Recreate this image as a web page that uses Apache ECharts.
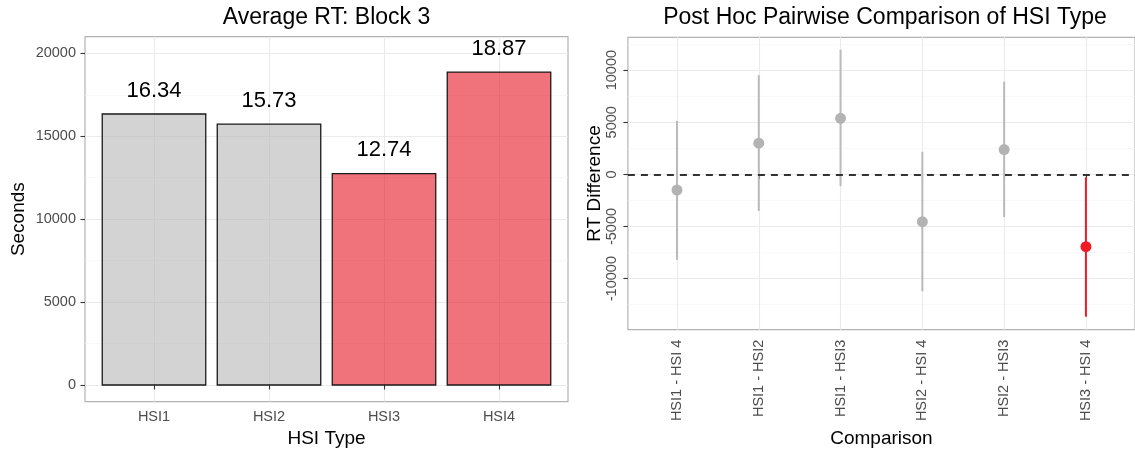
<!DOCTYPE html>
<html>
<head>
<meta charset="utf-8">
<script src="https://cdn.jsdelivr.net/npm/echarts@6/dist/echarts.min.js"></script>
<style>
  html, body { margin: 0; padding: 0; background: #fff; }
  #chart { width: 1135px; height: 453px; }
</style>
</head>
<body>
<div id="chart"></div>
<script>
// Left panel: mean response time per HSI type in block 3
const hsiTypes = ['HSI1', 'HSI2', 'HSI3', 'HSI4'];
const meanRT = [16340, 15730, 12740, 18870];
const highlightedTypes = ['HSI3', 'HSI4'];
const leftYTicks = [0, 5000, 10000, 15000, 20000];

// Right panel: pairwise differences with their confidence intervals
const comparisons = ['HSI1 - HSI 4', 'HSI1 - HSI2', 'HSI1 - HSI3', 'HSI2 - HSI 4', 'HSI2 - HSI3', 'HSI3 - HSI 4'];
const diffEstimate = [-1500, 2990, 5380, -4540, 2380, -6930];
const diffLower = [-8200, -3500, -1130, -11210, -4100, -13650];
const diffUpper = [5130, 9520, 11960, 2160, 8890, -280];
const rightYTicks = [-10000, -5000, 0, 5000, 10000];

const FONT = '"Liberation Sans", Arial, Helvetica, sans-serif';
const GRID_MAJOR = '#ebebeb';
const GRID_MINOR = '#f5f5f5';
const TICK_TEXT = '#4d4d4d';
const BORDER = '#b3b3b3';

const tickStyle = { show: true, length: 4.5, lineStyle: { color: '#333', width: 1.1 } };
const barFill = name => highlightedTypes.includes(name) ? 'rgba(230,20,35,0.6)' : 'rgba(182,182,182,0.6)';
const plainNumber = v => String(v);

const leftPositions = hsiTypes.map((_, i) => i + 1);
const rightPositions = comparisons.map((_, i) => i + 1);

const chart = echarts.init(document.getElementById('chart'), null, { renderer: 'canvas' });

chart.setOption({
  backgroundColor: '#fff',
  animation: false,
  graphic: [
    { type: 'text', x: 326.5, y: 17.5, style: { text: 'Average RT: Block 3', fontSize: 23, fontFamily: FONT, fill: '#000', align: 'center', verticalAlign: 'middle' } },
    { type: 'text', x: 885, y: 17.5, style: { text: 'Post Hoc Pairwise Comparison of HSI Type', fontSize: 23, fontFamily: FONT, fill: '#000', align: 'center', verticalAlign: 'middle' } }
  ],
  grid: [
    { left: 85, top: 36.7, width: 483, height: 369.3, show: true, borderColor: BORDER, borderWidth: 1.2, backgroundColor: 'transparent' },
    { left: 627.9, top: 37.3, width: 514.4, height: 298.7, show: true, borderColor: BORDER, borderWidth: 1.2, backgroundColor: 'transparent' }
  ],
  xAxis: [
    {
      gridIndex: 0, type: 'value', min: 0.4, max: 4.6,
      axisLine: { show: false },
      axisTick: Object.assign({ customValues: leftPositions }, tickStyle),
      axisLabel: { customValues: leftPositions, formatter: v => hsiTypes[Math.round(v) - 1], fontSize: 14.5, color: TICK_TEXT, fontFamily: FONT, margin: 7.5 },
      splitLine: { show: true, lineStyle: { color: GRID_MAJOR, width: 1.1 } },
      name: 'HSI Type', nameLocation: 'middle', nameGap: 24,
      nameTextStyle: { fontSize: 19, color: '#000', fontFamily: FONT }
    },
    {
      gridIndex: 1, type: 'value', min: 0.4, max: 6.6,
      axisLine: { show: false },
      axisTick: Object.assign({ customValues: rightPositions }, tickStyle),
      axisLabel: {
        customValues: rightPositions, formatter: v => comparisons[Math.round(v) - 1],
        rotate: 90, fontSize: 14.5, color: TICK_TEXT, fontFamily: FONT, margin: 10,
        padding: [9, 0, 0, 0]
      },
      splitLine: { show: true, lineStyle: { color: GRID_MAJOR, width: 1.1 } },
      name: 'Comparison', nameLocation: 'middle', nameGap: 95,
      nameTextStyle: { fontSize: 19, color: '#000', fontFamily: FONT }
    }
  ],
  yAxis: [
    {
      gridIndex: 0, type: 'value', min: -1000, max: 21000,
      axisLine: { show: false },
      axisTick: Object.assign({ customValues: leftYTicks }, tickStyle),
      axisLabel: { customValues: leftYTicks, formatter: plainNumber, fontSize: 14.5, color: TICK_TEXT, fontFamily: FONT, margin: 9 },
      splitLine: { show: true, lineStyle: { color: GRID_MAJOR, width: 1.1 } },
      minorTick: { show: false, splitNumber: 2 },
      minorSplitLine: { show: true, lineStyle: { color: GRID_MINOR, width: 0.7 } },
      name: 'Seconds', nameLocation: 'middle', nameGap: 57,
      nameTextStyle: { fontSize: 19, color: '#000', fontFamily: FONT }
    },
    {
      gridIndex: 1, type: 'value', min: -14900, max: 13150,
      axisLine: { show: false },
      axisTick: Object.assign({ customValues: rightYTicks }, tickStyle),
      axisLabel: { customValues: rightYTicks, formatter: plainNumber, rotate: 90, fontSize: 14.5, color: TICK_TEXT, fontFamily: FONT, margin: 8 },
      splitLine: { show: true, lineStyle: { color: GRID_MAJOR, width: 1.1 } },
      minorTick: { show: false, splitNumber: 2 },
      minorSplitLine: { show: true, lineStyle: { color: GRID_MINOR, width: 0.7 } },
      name: 'RT Difference', nameLocation: 'middle', nameGap: 24,
      nameTextStyle: { fontSize: 19, color: '#000', fontFamily: FONT }
    }
  ],
  series: [
    {
      // bars with their value labels (shown in thousands)
      type: 'custom',
      xAxisIndex: 0, yAxisIndex: 0,
      encode: { x: 0, y: 1 },
      data: hsiTypes.map((name, i) => [leftPositions[i], meanRT[i]]),
      renderItem: (params, api) => {
        const x = api.value(0);
        const y = api.value(1);
        const base = api.coord([x - 0.45, 0]);
        const top = api.coord([x + 0.45, y]);
        return {
          type: 'group',
          children: [
            {
              type: 'rect',
              shape: { x: base[0], y: top[1], width: top[0] - base[0], height: base[1] - top[1] },
              style: { fill: barFill(hsiTypes[params.dataIndex]), stroke: '#1a1a1a', lineWidth: 1.3 }
            },
            {
              type: 'text',
              x: (base[0] + top[0]) / 2, y: top[1] - 23.4,
              style: { text: (y / 1000).toFixed(2), fontSize: 22, fontFamily: FONT, fill: '#000', align: 'center', verticalAlign: 'middle' }
            }
          ]
        };
      }
    },
    {
      // point estimate with interval; red when the interval excludes zero
      type: 'custom',
      xAxisIndex: 1, yAxisIndex: 1,
      encode: { x: 0, y: [1, 2, 3] },
      data: comparisons.map((c, i) => [rightPositions[i], diffEstimate[i], diffLower[i], diffUpper[i]]),
      renderItem: (params, api) => {
        const x = api.value(0);
        const lower = api.value(2);
        const upper = api.value(3);
        const pt = api.coord([x, api.value(1)]);
        const lo = api.coord([x, lower]);
        const hi = api.coord([x, upper]);
        const significant = upper < 0 || lower > 0;
        const lineColor = significant ? '#ee1c25' : '#bababa';
        const dotColor = significant ? '#ee1c25' : '#b3b3b3';
        return {
          type: 'group',
          children: [
            { type: 'line', shape: { x1: lo[0], y1: lo[1], x2: hi[0], y2: hi[1] }, style: { stroke: lineColor, lineWidth: 2 } },
            { type: 'circle', shape: { cx: pt[0], cy: pt[1], r: 5.5 }, style: { fill: dotColor } }
          ]
        };
      },
      markLine: {
        silent: true,
        symbol: 'none',
        label: { show: false },
        lineStyle: { type: [7, 6], color: '#333', width: 2 },
        data: [{ yAxis: 0 }]
      }
    }
  ]
});
</script>
</body>
</html>
